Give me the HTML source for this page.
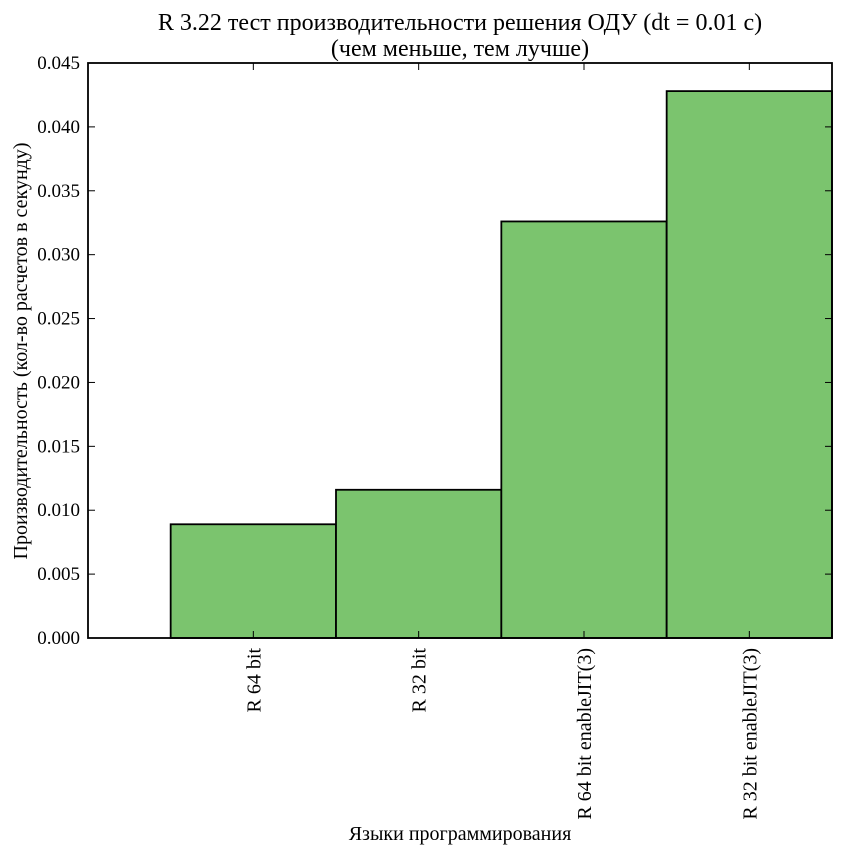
<!DOCTYPE html>
<html><head><meta charset="utf-8"><style>
body{margin:0;background:#fff;}
text{font-family:"Liberation Serif","DejaVu Serif",serif;fill:#000;}
</style></head><body>
<svg id="chart" width="844" height="855" xmlns="http://www.w3.org/2000/svg">
<text x="460" y="30" font-size="24" text-anchor="middle">R 3.22 тест производительности решения ОДУ (dt = 0.01 c)</text>
<text x="460" y="56" font-size="24" text-anchor="middle">(чем меньше, тем лучше)</text>
<g id="bars"></g>
<g id="axes"></g>
<text x="460" y="840" font-size="20" text-anchor="middle">Языки программирования</text>
<text transform="translate(27,351) rotate(-90)" font-size="20" text-anchor="middle">Производительность (кол-во расчетов в секунду)</text>
</svg>
<script>
const categories=["R 64 bit","R 32 bit","R 64 bit enableJIT(3)","R 32 bit enableJIT(3)"];
const values=[0.0089,0.0116,0.0326,0.0428];
const yTicks=[0,0.005,0.010,0.015,0.020,0.025,0.030,0.035,0.040,0.045];
const L=88,R=832,T=63,B=638,yMax=0.045,xMin=-0.5,xMax=4;
const ns="http://www.w3.org/2000/svg";
const xs=v=>L+(v-xMin)/(xMax-xMin)*(R-L);
const ys=v=>B-v/yMax*(B-T);
function mk(tag,attrs,parent){const e=document.createElementNS(ns,tag);for(const k in attrs)e.setAttribute(k,attrs[k]);parent.appendChild(e);return e;}
const bars=document.getElementById('bars'),axes=document.getElementById('axes');
values.forEach((v,i)=>{
 const r=mk('rect',{x:xs(i),y:ys(v),width:xs(i+1)-xs(i),height:B-ys(v),fill:'#7bc46e',stroke:'#000','stroke-width':1.8},bars);
 
 
 const cx=xs(i+0.5);
 mk('line',{x1:cx,x2:cx,y1:B,y2:B-7,stroke:'#000'},axes);
 mk('line',{x1:cx,x2:cx,y1:T,y2:T+7,stroke:'#000'},axes);
 const t=mk('text',{transform:`translate(${cx+7},${B+10}) rotate(-90)`,'font-size':20,'text-anchor':'end'},axes);
 t.textContent=categories[i];
 
 
});
yTicks.forEach(v=>{
 const y=ys(v);
 mk('line',{x1:L,x2:L+7,y1:y,y2:y,stroke:'#000'},axes);
 mk('line',{x1:R,x2:R-7,y1:y,y2:y,stroke:'#000'},axes);
 const t=mk('text',{x:L-8,y:y+6,'font-size':19,'text-anchor':'end'},axes);
 t.textContent=v.toFixed(3);
 
 
});
const f=mk('rect',{x:L,y:T,width:R-L,height:B-T,fill:'none',stroke:'#000','stroke-width':1.8},axes);


</script>
</body></html>
